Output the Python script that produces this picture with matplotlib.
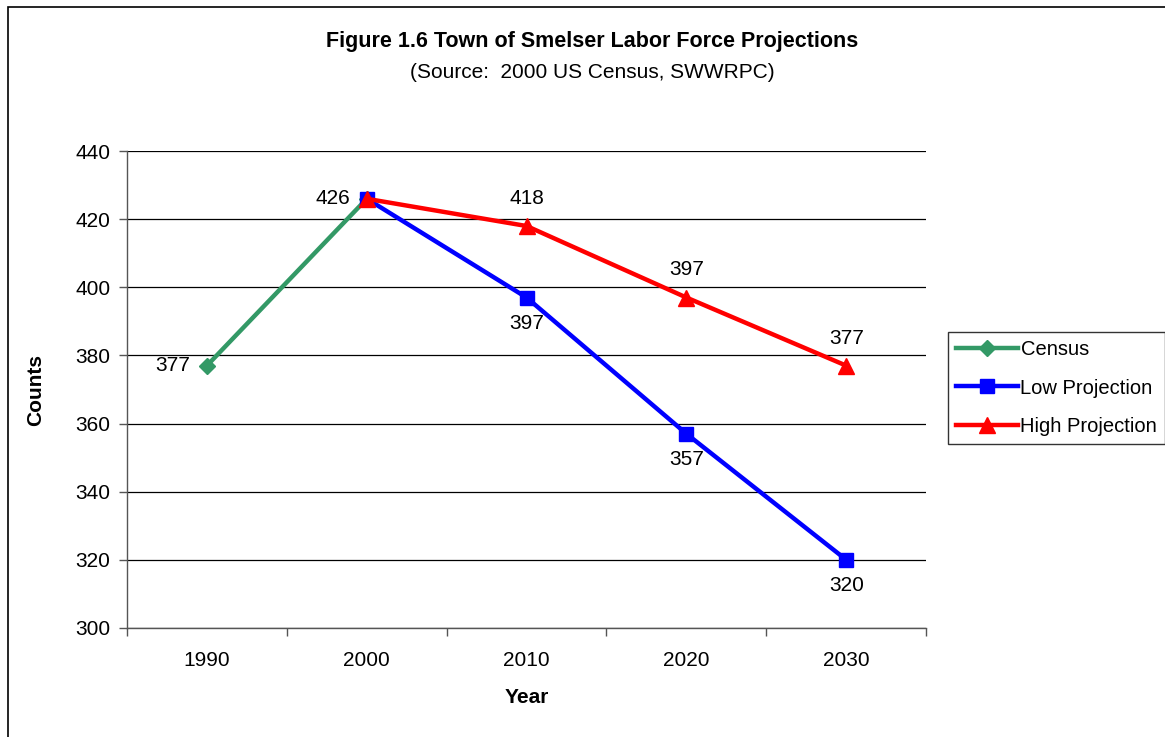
import matplotlib.pyplot as plt
from matplotlib.patches import Rectangle

plt.rcParams['font.family'] = ['Liberation Sans', 'DejaVu Sans']

years = ['1990', '2000', '2010', '2020', '2030']
census_x = [0, 1]
census = [377, 426]
low_x = [1, 2, 3, 4]
low = [426, 397, 357, 320]
high_x = [1, 2, 3, 4]
high = [426, 418, 397, 377]

fig = plt.figure(figsize=(11.65, 7.37), dpi=100)
ax = fig.add_axes([0.109, 0.148, 0.686, 0.647])

# outer chart frame
fig.patches.append(Rectangle((8/1165, -0.1), 1.2, 1 - 7/737 + 0.1, transform=fig.transFigure,
                             fill=False, edgecolor='black', linewidth=1.2))

ax.plot(census_x, census, color='#339966', lw=3.2, marker='D', ms=8, label='Census')
ax.plot(low_x, low, color='#0000FF', lw=3.2, marker='s', ms=9.5, label='Low Projection')
ax.plot(high_x, high, color='#FF0000', lw=3.2, marker='^', ms=11, label='High Projection')

fs = 15
# data labels
ax.annotate(str(census[0]), (census_x[0], census[0]), xytext=(-12, 0), textcoords='offset points',
            ha='right', va='center', fontsize=fs)
ax.annotate(str(census[1]), (census_x[1], census[1]), xytext=(-12, 0), textcoords='offset points',
            ha='right', va='center', fontsize=fs)
for x, v in zip(low_x[1:], low[1:]):
    ax.annotate(str(v), (x, v), xytext=(0, -12), textcoords='offset points',
                ha='center', va='top', fontsize=fs)
for x, v in zip(high_x[1:], high[1:]):
    ax.annotate(str(v), (x, v), xytext=(0, 13), textcoords='offset points',
                ha='center', va='bottom', fontsize=fs)

ax.set_xlim(-0.5, 4.5)
ax.set_ylim(300, 440)
ax.set_yticks(range(300, 441, 20))
ax.set_xticks(range(len(years)))
ax.set_xticklabels(years)
ax.set_xticks([i - 0.5 for i in range(len(years) + 1)], minor=True)
ax.tick_params(axis='x', which='major', length=0, pad=16.5, labelsize=fs)
ax.tick_params(axis='x', which='minor', length=6, direction='out', width=1, color='#555555')
ax.tick_params(axis='y', length=6, direction='out', width=1, color='#555555', pad=6, labelsize=fs)
ax.grid(axis='y', color='black', linewidth=0.9)
ax.set_axisbelow(True)
for s in ['top', 'right']:
    ax.spines[s].set_visible(False)
for s in ['left', 'bottom']:
    ax.spines[s].set_color('#555555')
    ax.spines[s].set_linewidth(1)

ax.set_xlabel('Year', fontsize=fs, fontweight='bold', labelpad=13)
ax.set_ylabel('Counts', fontsize=fs, fontweight='bold', labelpad=22)

fig.text(0.508, 1 - 42/737, 'Figure 1.6 Town of Smelser Labor Force Projections',
         ha='center', va='center', fontsize=15.5, fontweight='bold')
fig.text(0.508, 1 - 72/737, '(Source:  2000 US Census, SWWRPC)',
         ha='center', va='center', fontsize=fs)

leg = fig.legend(loc='center left', bbox_to_anchor=(948/1165, 1 - 388/737), fontsize=14.5,
                 frameon=True, fancybox=False, edgecolor='black', handlelength=3.1,
                 handletextpad=0.1, labelspacing=0.95, borderpad=0.4, borderaxespad=0)
leg.get_frame().set_linewidth(1)

fig.savefig('out.png', dpi=100)
